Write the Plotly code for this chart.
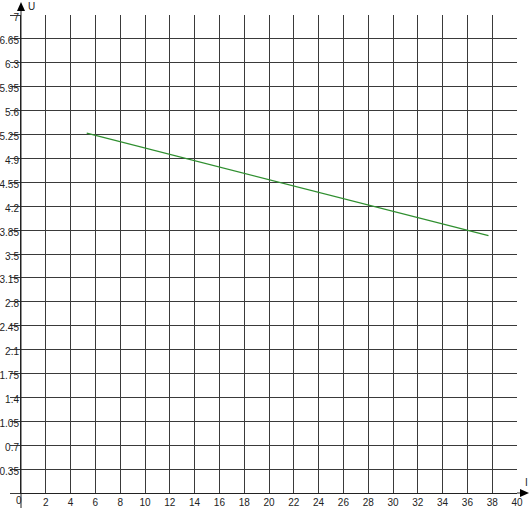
import plotly.graph_objects as go

# Data
current_I = [5.3, 37.7]
voltage_U = [5.27, 3.77]
x_ticks = list(range(2, 42, 2))
y_ticks = [round(0.35 * k, 2) for k in range(0, 21)]
y_tick_text = [""] + [("%g" % v) for v in y_ticks[1:]]

W, H = 531, 513
L, R, T, B = 21, 14, 15, 20
PX0, PX1, PY0, PY1 = L, W - R, T, H - B

def px(x):
    return (x - PX0) / (PX1 - PX0)

def py(y):
    return (PY1 - y) / (PY1 - PY0)

fig = go.Figure()
fig.add_trace(go.Scatter(x=current_I, y=voltage_U, mode="lines",
                         line=dict(color="#2f8f2f", width=1.2),
                         hoverinfo="skip", showlegend=False))

axis_col = "#222222"
grid_col = "#3a3a3a"
font = dict(family="Liberation Sans, Arial, sans-serif", size=10, color="#222222")

fig.update_layout(
    width=W, height=H,
    margin=dict(l=L, r=R, t=T, b=B, pad=0, autoexpand=False),
    paper_bgcolor="white", plot_bgcolor="white",
    font=font,
    xaxis=dict(range=[0, 40], tickvals=x_ticks, ticktext=[str(v) for v in x_ticks],
               showgrid=True, gridcolor=grid_col, gridwidth=1,
               showline=True, linecolor=axis_col, linewidth=1,
               ticks="", zeroline=False, mirror=False, fixedrange=True,
               automargin=False, tickfont=font),
    yaxis=dict(range=[0, 7], tickvals=y_ticks, ticktext=y_tick_text,
               showgrid=True, gridcolor=grid_col, gridwidth=1,
               showline=True, linecolor=axis_col, linewidth=1,
               ticks="outside", ticklen=10, tickcolor=grid_col, tickwidth=1,
               ticklabelstandoff=-11, ticklabelshift=2,
               zeroline=False, fixedrange=True, automargin=False, tickfont=font),
)

shapes = []
# y-axis extension and arrow
shapes.append(dict(type="line", xref="paper", yref="paper", x0=0, x1=0,
                   y0=py(508), y1=py(8), line=dict(color=axis_col, width=1)))
shapes.append(dict(type="path", xref="paper", yref="paper",
                   path="M %f,%f L %f,%f L %f,%f Z" % (px(21), py(2), px(17), py(11), px(25), py(11)),
                   fillcolor="black", line=dict(color="black", width=0)))
# x-axis extension and arrow
shapes.append(dict(type="line", xref="paper", yref="paper", x0=1, x1=px(522),
                   y0=0, y1=0, line=dict(color=axis_col, width=1)))
shapes.append(dict(type="path", xref="paper", yref="paper",
                   path="M %f,%f L %f,%f L %f,%f Z" % (px(529), py(493), px(520), py(489), px(520), py(497)),
                   fillcolor="black", line=dict(color="black", width=0)))
fig.update_layout(shapes=shapes)

fig.add_annotation(text="U", xref="paper", yref="paper", x=px(26), y=py(7),
                   xanchor="left", yanchor="middle", showarrow=False, font=font)
fig.add_annotation(text="I", xref="paper", yref="paper", x=px(526), y=py(482),
                   xanchor="center", yanchor="middle", showarrow=False, font=font)
fig.add_annotation(text="0", xref="paper", yref="paper", x=px(18.5), y=py(500),
                   xanchor="center", yanchor="middle", showarrow=False, font=font)

fig.write_html("out.html", config={"displayModeBar": False, "staticPlot": True},
               post_script="document.body.style.margin='0px';document.body.style.overflow='hidden';")
